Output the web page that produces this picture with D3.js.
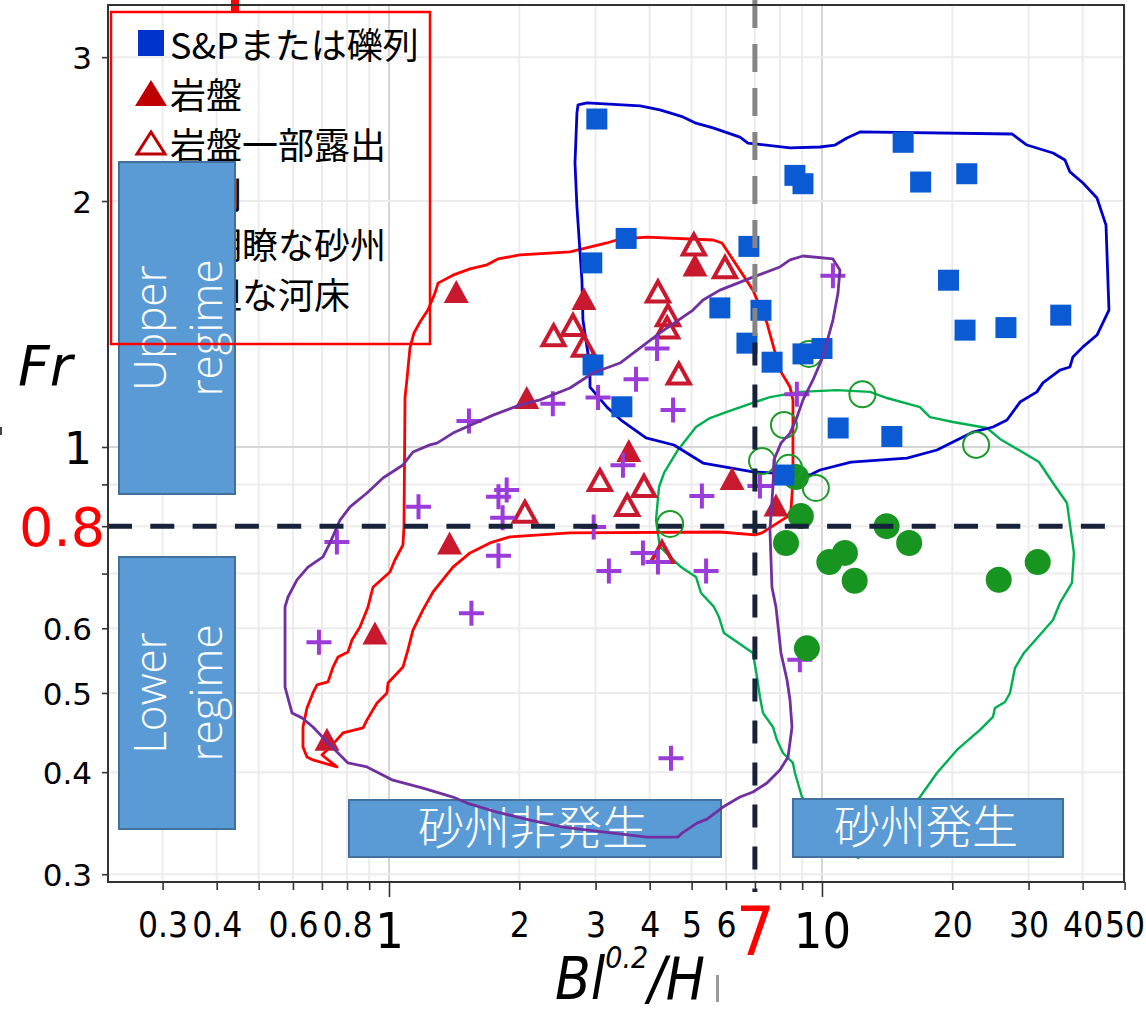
<!DOCTYPE html>
<html>
<head>
<meta charset="utf-8">
<script src="https://cdn.jsdelivr.net/npm/d3@7"></script>
<style>
  body { margin: 0; background: #fff; }
  svg { display: block; }
</style>
</head>
<body>
<svg id="chart" width="1146" height="1014"></svg>
<script>
// ---- data -------------------------------------------------------------
// S&P or gravel bars
const spX = [3.02, 3.53, 2.94, 6.78, 8.66, 9.04, 5.81, 7.23, 6.71, 7.67, 9.04, 10.0, 2.96, 3.45, 10.9, 14.5, 8.17, 15.4, 16.9, 21.6, 19.6, 21.4, 26.6, 35.6];
const spY = [2.52, 1.80, 1.68, 1.76, 2.15, 2.10, 1.48, 1.47, 1.34, 1.27, 1.30, 1.32, 1.26, 1.12, 1.055, 1.03, 0.924, 2.36, 2.11, 2.16, 1.60, 1.39, 1.40, 1.45];
// bedrock
const bedX = [1.43, 2.82, 5.09, 2.08, 3.58, 1.38, 0.928, 0.719, 6.20, 7.83];
const bedY = [1.55, 1.52, 1.67, 1.15, 0.99, 0.763, 0.592, 0.439, 0.915, 0.849];
// partly exposed bedrock
const partX = [5.06, 5.97, 4.18, 4.41, 4.39, 2.40, 2.66, 2.82, 4.67, 3.07, 3.88, 3.55, 2.06, 4.27];
const partY = [1.77, 1.66, 1.55, 1.45, 1.40, 1.37, 1.41, 1.33, 1.23, 0.911, 0.896, 0.849, 0.833, 0.744];
// sand ridges
const ridgeX = [1.17, 1.87, 1.79, 1.83, 0.758, 1.79, 1.55, 0.689, 4.48, 2.39, 3.04, 3.72, 4.16, 10.6, 1.53, 4.53, 8.75, 3.47, 7.19, 5.28, 2.97, 3.86, 4.18, 3.22, 5.40, 8.89];
const ridgeY = [0.845, 0.886, 0.869, 0.819, 0.765, 0.736, 0.626, 0.577, 0.416, 1.13, 1.15, 1.21, 1.32, 1.62, 1.076, 1.11, 1.16, 0.950, 0.896, 0.871, 0.798, 0.742, 0.723, 0.705, 0.705, 0.549];
// indistinct bars
const indX = [9.33, 12.4, 8.17, 7.27, 8.39, 9.68, 22.7, 4.46];
const indY = [1.30, 1.16, 1.064, 0.961, 0.943, 0.891, 1.006, 0.805];
// flat bed
const flatX = [8.71, 8.94, 8.26, 10.4, 11.3, 11.9, 14.1, 15.9, 25.6, 31.5, 9.23];
const flatY = [0.919, 0.823, 0.763, 0.723, 0.742, 0.686, 0.800, 0.763, 0.688, 0.723, 0.567];

// hand-drawn envelopes around each group, [Bl^0.2/H, Fr]
const blueEnvelope = [[2.733,2.623],[2.867,2.638],[3.800,2.615],[4.225,2.586],[4.775,2.535],[5.090,2.493],[5.603,2.458],[6.465,2.395],[6.746,2.355],[8.437,2.323],[9.894,2.329],[10.72,2.342],[11.42,2.389],[12.24,2.430],[27.47,2.416],[29.74,2.342],[34.17,2.290],[36.41,2.245],[37.39,2.171],[40.07,2.104],[43.17,2.017],[45.29,1.869],[46.01,1.471],[43.17,1.371],[40.07,1.326],[37.99,1.289],[37.39,1.253],[35.45,1.242],[32.38,1.198],[31.37,1.168],[28.67,1.135],[26.75,1.079],[24.83,1.058],[22.33,1.043],[20.07,1.014],[18.43,0.9916],[15.72,0.9694],[11.67,0.9585],[9.894,0.9372],[9.382,0.9241],[7.746,0.9294],[6.928,0.9320],[5.312,0.9559],[4.552,1.0056],[3.923,1.026],[3.434,1.079],[3.187,1.119],[2.912,1.184],[2.912,1.253],[2.805,1.430],[2.790,1.601],[2.717,1.967],[2.689,2.227],[2.717,2.564]];
const redEnvelope = [[1.179,1.422],[1.230,1.471],[1.277,1.543],[1.298,1.587],[1.405,1.623],[1.539,1.652],[1.684,1.671],[1.785,1.699],[2.007,1.718],[2.618,1.733],[3.187,1.777],[3.416,1.797],[3.944,1.807],[5.603,1.792],[5.876,1.777],[6.928,1.556],[7.116,1.505],[7.464,1.418],[7.998,1.242],[8.437,1.184],[8.570,1.142],[8.570,0.9112],[8.482,0.8374],[8.305,0.8211],[7.268,0.7849],[7.003,0.7806],[5.812,0.7870],[2.618,0.7849],[1.903,0.7762],[1.711,0.7632],[1.539,0.7419],[1.405,0.7129],[1.264,0.6646],[1.198,0.6318],[1.136,0.5970],[1.106,0.5645],[1.077,0.5379],[0.9947,0.5142],[0.9895,0.5000],[0.9382,0.4861],[0.8896,0.4635],[0.8710,0.4531],[0.7830,0.4467],[0.7504,0.4356],[0.7192,0.4258],[0.7003,0.4198],[0.7584,0.4059],[0.6675,0.4140],[0.6465,0.4175],[0.6329,0.4294],[0.6329,0.4543],[0.6465,0.4792],[0.6675,0.5000],[0.6818,0.5114],[0.7231,0.5158],[0.7426,0.5379],[0.7627,0.5534],[0.8041,0.5613],[0.8214,0.5805],[0.8569,0.6022],[0.8944,0.6372],[0.9184,0.6735],[1.005,0.7031],[1.032,0.7273],[1.077,0.7586],[1.083,0.7983],[1.089,1.151],[1.100,1.208],[1.118,1.322],[1.142,1.379]];
const purpleEnvelope = [[1.291,1.011],[1.405,1.040],[1.739,1.094],[2.007,1.126],[2.233,1.142],[2.618,1.181],[2.959,1.232],[3.416,1.267],[4.225,1.379],[5.036,1.471],[5.312,1.513],[5.812,1.556],[6.928,1.614],[7.998,1.661],[8.437,1.694],[9.040,1.713],[10.60,1.699],[11.00,1.647],[10.89,1.543],[10.60,1.430],[10.05,1.289],[9.533,1.208],[9.040,1.142],[8.757,1.088],[8.437,1.040],[8.041,1.011],[7.746,0.9640],[7.705,0.8934],[7.584,0.7915],[7.665,0.6735],[7.830,0.6372],[8.041,0.5597],[8.305,0.5186],[8.437,0.4902],[8.527,0.4543],[8.349,0.4175],[7.998,0.4025],[7.464,0.3879],[6.928,0.3782],[6.465,0.3729],[5.907,0.3625],[5.426,0.3504],[5.145,0.3465],[4.750,0.3369],[4.650,0.3331],[3.944,0.3331],[3.291,0.3369],[2.523,0.3426],[2.117,0.3495],[1.776,0.3574],[1.514,0.3666],[1.405,0.3729],[1.198,0.3824],[1.021,0.3911],[0.8896,0.4059],[0.8041,0.4105],[0.7308,0.4318],[0.6675,0.4543],[0.6295,0.4661],[0.5970,0.4727],[0.5753,0.5084],[0.5753,0.6372],[0.5845,0.6553],[0.6131,0.6875],[0.6500,0.7129],[0.7040,0.7336],[0.7308,0.7632],[0.7705,0.8140],[0.8129,0.8446],[0.8896,0.8784],[0.9685,0.9164],[1.077,0.9506],[1.136,0.9860],[1.243,1.006]];
const greenEnvelope = [[4.137,0.8140],[4.204,0.8934],[4.317,0.9294],[4.650,0.9916],[5.117,1.058],[5.512,1.085],[6.033,1.104],[6.712,1.126],[7.584,1.151],[8.896,1.168],[10.83,1.174],[12.91,1.168],[14.13,1.148],[16.84,1.119],[17.76,1.088],[20.07,1.073],[24.05,1.055],[25.77,1.023],[29.27,0.9832],[31.71,0.9585],[34.17,0.9035],[36.80,0.8541],[38.19,0.7419],[37.79,0.6817],[35.45,0.6444],[34.17,0.6142],[29.27,0.5597],[27.91,0.5364],[27.18,0.5000],[26.47,0.4874],[25.09,0.4792],[24.83,0.4674],[23.17,0.4505],[20.50,0.4258],[18.43,0.3990],[16.84,0.3729],[12.11,0.3140],[8.991,0.3729],[8.662,0.3990],[8.570,0.4105],[8.128,0.4222],[7.873,0.4379],[7.705,0.4543],[7.306,0.4727],[7.191,0.4943],[7.078,0.5230],[6.928,0.5597],[5.939,0.5920],[5.782,0.6193],[5.631,0.6372],[5.256,0.6627],[5.117,0.6933],[4.725,0.7129],[4.225,0.7545]];

// axis ticks and labels
const xTickValues = [0.3, 0.4, 0.5, 0.6, 0.7, 0.8, 0.9, 1, 2, 3, 4, 5, 6, 7, 8, 9, 10, 20, 30, 40, 50];
const xLabelValues = [0.3, 0.4, 0.6, 0.8, 1, 2, 3, 4, 5, 6, 7, 10, 20, 30, 40, 50];
const xLabelText = ["0.3", "0.4", "0.6", "0.8", "1", "2", "3", "4", "5", "6", "7", "10", "20", "30", "40", "50"];
const yTickValues = [0.3, 0.4, 0.5, 0.6, 0.7, 0.8, 0.9, 1, 2, 3];
const yLabelValues = [0.3, 0.4, 0.5, 0.6, 0.8, 1, 2, 3];
const yLabelText = ["0.3", "0.4", "0.5", "0.6", "0.8", "1", "2", "3"];
// thresholds
const frThreshold = 0.8;
const blThreshold = 7;

const legendLabels = ["S&Pまたは礫列", "岩盤", "岩盤一部露出", "砂列", "不明瞭な砂州", "平坦な河床"];

// ---- scales -----------------------------------------------------------
const svg = d3.select("#chart");
const x = d3.scaleLog().domain([0.2244, 49.84]).range([108, 1124]);
const y = d3.scaleLog().domain([0.2935, 3.475]).range([882, 5]);
const zip = (a, b) => a.map((v, i) => [v, b[i]]);

const C = {
  sq: "#0a5bd3", bed: "#c8192f", cross: "#9b3bd9", flat: "#179520", ind: "#1c9a2a",
  blueEnv: "#0000cc", redEnv: "#ff0000", purpleEnv: "#7030a0", greenEnv: "#00b050",
  box: "#5b9bd5", boxEdge: "#41719c", dark: "#17233a"
};

svg.append("rect").attr("width", 1146).attr("height", 1014).attr("fill", "#fff");

// ---- grid -------------------------------------------------------------
const grid = svg.append("g");
grid.selectAll("line.gx").data(xTickValues).join("line")
  .attr("x1", d => x(d)).attr("x2", d => x(d)).attr("y1", y.range()[1]).attr("y2", y.range()[0])
  .attr("stroke", d => (d === 1 || d === 10) ? "#d6d6d6" : "#ececec").attr("stroke-width", 2);
grid.selectAll("line.gy").data(yTickValues).join("line")
  .attr("y1", d => y(d)).attr("y2", d => y(d)).attr("x1", x.range()[0]).attr("x2", x.range()[1])
  .attr("stroke", d => d === 1 ? "#d6d6d6" : "#ececec").attr("stroke-width", 2);

// ---- envelopes --------------------------------------------------------
const envLine = d3.line().x(d => x(d[0])).y(d => y(d[1])).curve(d3.curveLinearClosed);
function envelope(g, pts, color, w) {
  g.append("path").attr("d", envLine(pts)).attr("fill", "none")
    .attr("stroke", color).attr("stroke-width", w).attr("stroke-linejoin", "round");
}
const envG = svg.append("g");
envelope(envG, greenEnvelope, C.greenEnv, 2.4);
envelope(envG, redEnvelope, C.redEnv, 2.8);
envelope(envG, blueEnvelope, C.blueEnv, 2.8);

// ---- markers ----------------------------------------------------------
const tri = (w, h) => `M0,${-h / 2}L${w / 2},${h / 2}L${-w / 2},${h / 2}Z`;
const cross = s => `M${-s},0H${s}M0,${-s}V${s}`;
const mk = svg.append("g");

mk.selectAll("path.bed").data(zip(bedX, bedY)).join("path")
  .attr("transform", d => `translate(${x(d[0])},${y(d[1])})`)
  .attr("d", tri(25, 23)).attr("fill", C.bed);

mk.selectAll("path.part").data(zip(partX, partY)).join("path")
  .attr("transform", d => `translate(${x(d[0])},${y(d[1])})`)
  .attr("d", tri(22, 20)).attr("fill", "none").attr("stroke", C.bed).attr("stroke-width", 4);

mk.selectAll("path.ridge").data(zip(ridgeX, ridgeY)).join("path")
  .attr("transform", d => `translate(${x(d[0])},${y(d[1])})`)
  .attr("d", cross(12.5)).attr("stroke", C.cross).attr("stroke-width", 4).attr("fill", "none");

mk.selectAll("circle.flat").data(zip(flatX, flatY)).join("circle")
  .attr("cx", d => x(d[0])).attr("cy", d => y(d[1])).attr("r", 13).attr("fill", C.flat);

mk.selectAll("circle.ind").data(zip(indX, indY)).join("circle")
  .attr("cx", d => x(d[0])).attr("cy", d => y(d[1])).attr("r", 13)
  .attr("fill", "none").attr("stroke", C.ind).attr("stroke-width", 2);

mk.selectAll("rect.sp").data(zip(spX, spY)).join("rect")
  .attr("x", d => x(d[0]) - 10.5).attr("y", d => y(d[1]) - 10.5)
  .attr("width", 21).attr("height", 21).attr("fill", C.sq);

// ---- legend (entries) -------------------------------------------------
const lg = svg.append("g");
const legendMarks = [
  g => g.append("rect").attr("x", -13).attr("y", -13).attr("width", 26).attr("height", 26).attr("fill", "#0033cc"),
  g => g.append("path").attr("d", tri(32, 26)).attr("fill", "#c00000"),
  g => g.append("path").attr("d", tri(28, 22)).attr("fill", "none").attr("stroke", "#c00000").attr("stroke-width", 3),
  g => g.append("path").attr("d", cross(12)).attr("stroke", C.cross).attr("stroke-width", 4),
  g => g.append("circle").attr("r", 12).attr("fill", "none").attr("stroke", C.ind).attr("stroke-width", 2),
  g => g.append("circle").attr("r", 12).attr("fill", C.flat)
];
legendLabels.forEach((label, i) => {
  const cy = 43 + 50 * i;
  const m = lg.append("g").attr("transform", `translate(151,${cy})`);
  legendMarks[i](m);
  lg.append("text").attr("x", 170).attr("y", cy).attr("dominant-baseline", "central")
    .attr("font-family", "'Noto Sans CJK JP', sans-serif").attr("font-size", 36).attr("fill", "#000")
    .text(label);
});

// ---- regime / bar-formation boxes ------------------------------------
const boxFont = "'Open Sans', 'Noto Sans', sans-serif";
function regimeBox(x0, y0, w, h, lines) {
  const g = svg.append("g");
  g.append("rect").attr("x", x0).attr("y", y0).attr("width", w).attr("height", h)
    .attr("fill", C.box).attr("stroke", C.boxEdge).attr("stroke-width", 2);
  const cx = x0 + w / 2, cy = y0 + h / 2;
  lines.forEach((t, i) => {
    g.append("text").attr("transform", `translate(${cx + (i - 0.5) * 56},${cy}) rotate(-90)`)
      .attr("text-anchor", "middle").attr("dominant-baseline", "central")
      .attr("font-family", boxFont).attr("font-weight", 300).attr("font-size", 44).attr("fill", "#fff")
      .text(t);
  });
}
regimeBox(119, 162, 116, 332, ["Upper", "regime"]);
regimeBox(119, 557, 116, 272, ["Lower", "regime"]);

function barBox(x0, y0, w, h, label) {
  const g = svg.append("g");
  g.append("rect").attr("x", x0).attr("y", y0).attr("width", w).attr("height", h)
    .attr("fill", C.box).attr("stroke", C.boxEdge).attr("stroke-width", 2);
  g.append("text").attr("x", x0 + w / 2 - 2).attr("y", y0 + h / 2 - 5)
    .attr("text-anchor", "middle").attr("dominant-baseline", "central")
    .attr("font-family", "'Noto Sans CJK JP', sans-serif").attr("font-weight", 300)
    .attr("font-size", 46).attr("fill", "#fff").text(label);
}
barBox(349, 800, 372, 57, "砂州非発生");
barBox(793, 799, 270, 58, "砂州発生");

envelope(svg.append("g"), purpleEnvelope, C.purpleEnv, 2.8);

// legend frame
svg.append("rect").attr("x", 111).attr("y", 12).attr("width", 319).attr("height", 332)
  .attr("fill", "none").attr("stroke", "#ff0000").attr("stroke-width", 2.5);
svg.append("rect").attr("x", 231).attr("y", 0).attr("width", 8).attr("height", 13).attr("fill", "#ff0000");

// ---- threshold lines --------------------------------------------------
const yBreak = y(1.35);
svg.append("line").attr("x1", x(blThreshold)).attr("x2", x(blThreshold)).attr("y1", 0).attr("y2", yBreak)
  .attr("stroke", "#858585").attr("stroke-width", 5).attr("stroke-dasharray", "28,16");
svg.append("line").attr("x1", x(blThreshold)).attr("x2", x(blThreshold)).attr("y1", yBreak + 2).attr("y2", 892)
  .attr("stroke", C.dark).attr("stroke-width", 5).attr("stroke-dasharray", "23,19");
svg.append("line").attr("x1", x.range()[0]).attr("x2", 1108).attr("y1", y(frThreshold)).attr("y2", y(frThreshold))
  .attr("stroke", C.dark).attr("stroke-width", 5).attr("stroke-dasharray", "24,18.3");

// ---- axes -------------------------------------------------------------
svg.append("rect").attr("x", 108).attr("y", 5).attr("width", 1016).attr("height", 877)
  .attr("fill", "none").attr("stroke", "#333").attr("stroke-width", 2);

const xLab = d => { const i = xLabelValues.indexOf(d); return i < 0 ? "" : xLabelText[i]; };
const xAxisG = svg.append("g").attr("transform", "translate(0,882)")
  .call(d3.axisBottom(x).tickValues(xTickValues).tickFormat(xLab).tickSizeOuter(0));
xAxisG.select(".domain").remove();
xAxisG.selectAll(".tick line")
  .attr("y2", d => (d === 1 || d === 10) ? 15 : 8)
  .attr("stroke", "#333").attr("stroke-width", 1.6);
xAxisG.selectAll(".tick text")
  .attr("dy", 0)
  .attr("y", d => d === blThreshold ? 73 : (d === 1 || d === 10) ? 66 : 55)
  .attr("font-family", "'DejaVu Sans Condensed', 'DejaVu Sans', sans-serif")
  .attr("font-size", d => d === blThreshold ? 68 : (d === 1 || d === 10) ? 50 : 35)
  .attr("fill", d => d === blThreshold ? "#ff0000" : "#000");

const yLab = d => { const i = yLabelValues.indexOf(d); return i < 0 ? "" : yLabelText[i]; };
const yAxisG = svg.append("g").attr("transform", "translate(108,0)")
  .call(d3.axisLeft(y).tickValues(yTickValues).tickFormat(yLab).tickSizeOuter(0).tickSize(6));
yAxisG.select(".domain").remove();
yAxisG.selectAll(".tick line").attr("stroke", "#333").attr("stroke-width", 1.6);
const ySize = d => d === frThreshold ? 54 : d === 1 ? 44 : 31;
yAxisG.selectAll(".tick text")
  .attr("x", d => d === frThreshold ? -3 : -16).attr("dy", 0)
  .attr("y", d => ySize(d) * 0.365)
  .attr("font-family", "'DejaVu Sans', sans-serif")
  .attr("font-size", ySize)
  .attr("fill", d => d === frThreshold ? "#ff0000" : "#000");

// axis titles
svg.append("text").attr("x", 18).attr("y", 385)
  .attr("font-family", "'DejaVu Sans', sans-serif").attr("font-style", "italic").attr("font-size", 55)
  .text("Fr");
svg.append("rect").attr("x", 0).attr("y", 427).attr("width", 2).attr("height", 8).attr("fill", "#444");

const xt = svg.append("text").attr("x", 555).attr("y", 999)
  .attr("font-family", "'DejaVu Sans Condensed', 'DejaVu Sans', sans-serif")
  .attr("font-style", "italic").attr("font-size", 58);
xt.append("tspan").text("Bl");
xt.append("tspan").attr("font-size", 30).attr("dy", -31).text("0.2");
xt.append("tspan").attr("dy", 31).text("/H");
svg.append("rect").attr("x", 716).attr("y", 975).attr("width", 3).attr("height", 27).attr("fill", "#9a9a9a");
</script>
</body>
</html>
